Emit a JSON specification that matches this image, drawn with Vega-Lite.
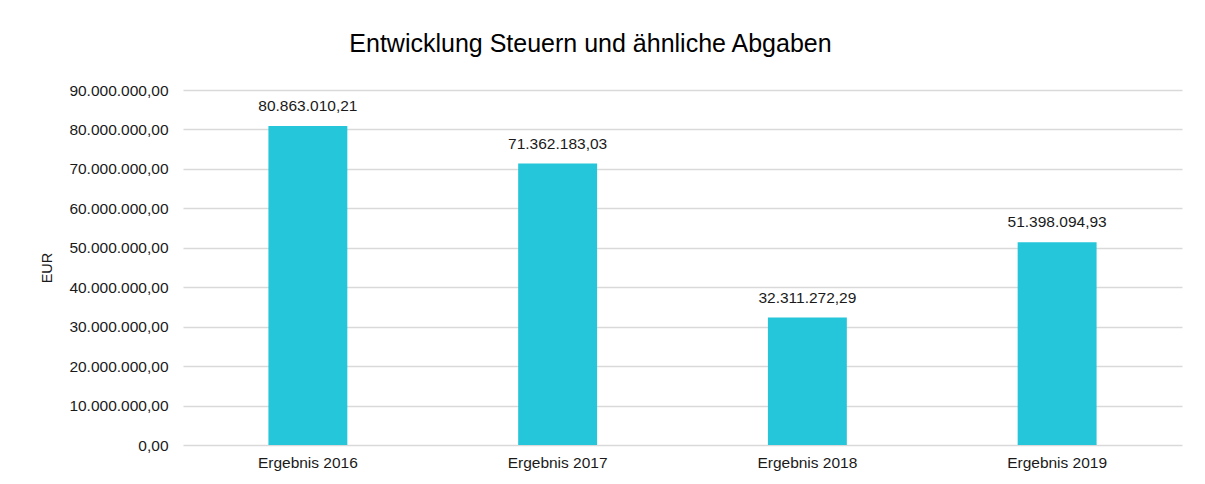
{
  "$schema": "https://vega.github.io/schema/vega-lite/v6.json",
  "autosize": "none",
  "width": 999,
  "height": 355,
  "padding": {"left": 183, "top": 90, "right": 23, "bottom": 39},
  "background": "white",
  "config": {
    "locale": {"number": {"decimal": ",", "thousands": ".", "grouping": [3], "currency": ["", " €"]}},
    "view": {"stroke": null},
    "font": "Liberation Sans"
  },
  "title": {
    "text": "Entwicklung Steuern und ähnliche Abgaben",
    "fontSize": 25,
    "fontWeight": "normal",
    "color": "#000000",
    "font": "Liberation Sans",
    "anchor": "middle",
    "baseline": "alphabetic",
    "dx": -92,
    "offset": 6
  },
  "data": {
    "values": [
      {"kategorie": "Ergebnis 2016", "wert": 80863010.21},
      {"kategorie": "Ergebnis 2017", "wert": 71362183.03},
      {"kategorie": "Ergebnis 2018", "wert": 32311272.29},
      {"kategorie": "Ergebnis 2019", "wert": 51398094.93}
    ]
  },
  "encoding": {
    "x": {
      "field": "kategorie",
      "type": "nominal",
      "sort": null,
      "scale": {"paddingInner": 0.684, "paddingOuter": 0.342},
      "axis": {
        "title": null,
        "labelAngle": 0,
        "labelFontSize": 15.5,
        "labelColor": "#1a1a1a",
        "labelPadding": 10,
        "ticks": false,
        "domain": false
      }
    },
    "y": {
      "field": "wert",
      "type": "quantitative",
      "scale": {"domain": [0, 90000000]},
      "axis": {
        "title": "EUR",
        "titleFontSize": 14.5,
        "titleFontWeight": "normal",
        "titleColor": "#1a1a1a",
        "titlePadding": 14,
        "values": [0, 10000000, 20000000, 30000000, 40000000, 50000000, 60000000, 70000000, 80000000, 90000000],
        "format": ",.2f",
        "labelFontSize": 15.5,
        "labelColor": "#1a1a1a",
        "labelPadding": 15,
        "ticks": false,
        "domain": false,
        "gridColor": "#d9d9d9",
        "gridWidth": 1.3
      }
    }
  },
  "layer": [
    {"mark": {"type": "bar", "color": "#26C6DA"}},
    {
      "mark": {"type": "text", "baseline": "alphabetic", "dy": -15, "fontSize": 15.5, "color": "#1a1a1a"},
      "encoding": {"text": {"field": "wert", "type": "quantitative", "format": ",.2f"}}
    }
  ]
}
